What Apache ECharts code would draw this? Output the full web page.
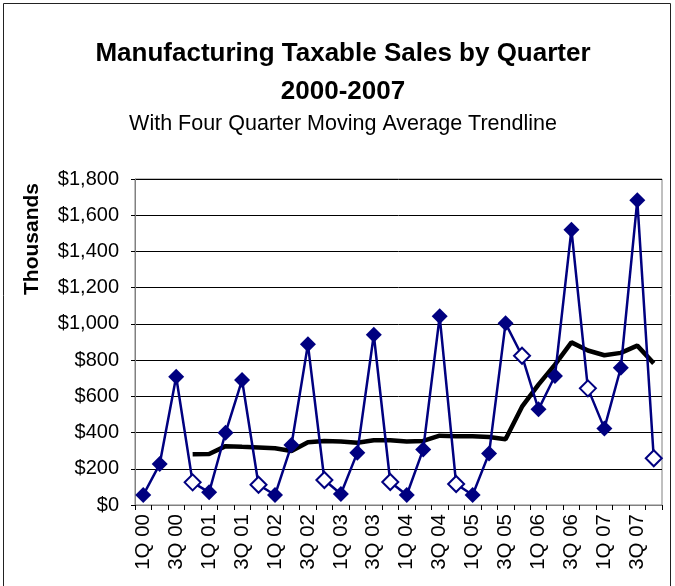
<!DOCTYPE html>
<html>
<head>
<meta charset="utf-8">
<script src="https://cdn.jsdelivr.net/npm/echarts@6/dist/echarts.min.js"></script>
<style>
html,body{margin:0;padding:0;background:#fff;}
#chart{width:675px;height:586px;}
</style>
</head>
<body>
<div id="chart"></div>
<script>
const quarters = [
  "1Q 00","2Q 00","3Q 00","4Q 00",
  "1Q 01","2Q 01","3Q 01","4Q 01",
  "1Q 02","2Q 02","3Q 02","4Q 02",
  "1Q 03","2Q 03","3Q 03","4Q 03",
  "1Q 04","2Q 04","3Q 04","4Q 04",
  "1Q 05","2Q 05","3Q 05","4Q 05",
  "1Q 06","2Q 06","3Q 06","4Q 06",
  "1Q 07","2Q 07","3Q 07","4Q 07"
];
const sales = [
  55, 226, 708, 125,
  70, 399, 690, 112,
  55, 331, 887, 138,
  61, 289, 940, 127,
  55, 307, 1042, 116,
  55, 285, 1003, 824,
  528, 712, 1520, 644,
  423, 758, 1682, 258
];
const movingAvg = [
  null, null, null, 280,
  282, 325, 321, 318,
  313, 298, 346, 353,
  350, 344, 358, 358,
  350, 354, 383, 380,
  379, 376, 363, 543,
  665, 775, 898, 853,
  827, 840, 880, 782
];
const yTicks = [0, 200, 400, 600, 800, 1000, 1200, 1400, 1600, 1800];

const FONT = "Liberation Sans, Arial, sans-serif";
const NAVY = "#000080";

const salesData = sales.map((v, i) => {
  const hollow = quarters[i].startsWith("4Q");
  return {
    value: v,
    itemStyle: hollow
      ? { color: "#ffffff", borderColor: NAVY, borderWidth: 2 }
      : { color: NAVY, borderColor: NAVY, borderWidth: 0 }
  };
});

const chart = echarts.init(document.getElementById("chart"), null, { renderer: "canvas" });
chart.setOption({
  backgroundColor: "#ffffff",
  animation: false,
  title: [
    {
      text: "Manufacturing Taxable Sales by Quarter",
      left: 338, top: 34, textAlign: "center",
      textStyle: { fontFamily: FONT, fontSize: 26, fontWeight: "bold", color: "#000", lineHeight: 30 }
    },
    {
      text: "2000-2007",
      left: 338, top: 72, textAlign: "center",
      textStyle: { fontFamily: FONT, fontSize: 26, fontWeight: "bold", color: "#000", lineHeight: 30 }
    },
    {
      text: "With Four Quarter Moving Average Trendline",
      left: 338, top: 106, textAlign: "center",
      textStyle: { fontFamily: FONT, fontSize: 21.5, fontWeight: "normal", color: "#000", lineHeight: 26 }
    }
  ],
  graphic: [
    {
      type: "rect",
      shape: { x: 3.5, y: 3.5, width: 667, height: 620 },
      style: { fill: null, stroke: "#222", lineWidth: 1 },
      silent: true
    },
    {
      type: "text",
      x: 32, y: 239,
      rotation: Math.PI / 2,
      style: {
        text: "Thousands",
        fontFamily: FONT, fontSize: 21, fontWeight: "bold", fill: "#000",
        textAlign: "center", textVerticalAlign: "middle"
      },
      silent: true
    }
  ],
  grid: {
    left: 135, right: 13, top: 179, bottom: 81,
    show: true, borderColor: "#808080", borderWidth: 1, backgroundColor: "transparent"
  },
  xAxis: {
    type: "category",
    data: quarters,
    boundaryGap: true,
    axisLine: { show: true, lineStyle: { color: "#808080", width: 1 } },
    axisTick: { show: true, interval: 0, length: 5, lineStyle: { color: "#000" } },
    axisLabel: {
      interval: 1, rotate: 90, margin: 9,
      fontFamily: FONT, fontSize: 20.5, color: "#000"
    },
    splitLine: { show: false }
  },
  yAxis: {
    type: "value",
    min: 0, max: 1800, interval: 200,
    axisLine: { show: true, lineStyle: { color: "#808080", width: 1 } },
    axisTick: { show: true, length: 4, inside: false, lineStyle: { color: "#000" } },
    axisLabel: {
      margin: 16,
      fontFamily: FONT, fontSize: 20, color: "#000",
      formatter: v => yTicks.includes(v) ? "$" + v.toLocaleString("en-US") : ""
    },
    splitLine: { show: true, lineStyle: { color: "#000", width: 1 } }
  },
  series: [
    {
      name: "Sales",
      type: "line",
      data: salesData,
      symbol: "diamond",
      symbolSize: 16,
      showAllSymbol: true,
      lineStyle: { color: NAVY, width: 2.5 },
      itemStyle: { color: NAVY },
      z: 3
    },
    {
      name: "Four Quarter Moving Average",
      type: "line",
      data: movingAvg,
      symbol: "none",
      connectNulls: false,
      lineStyle: { color: "#000", width: 4.5 },
      z: 2
    }
  ]
});
</script>
</body>
</html>
